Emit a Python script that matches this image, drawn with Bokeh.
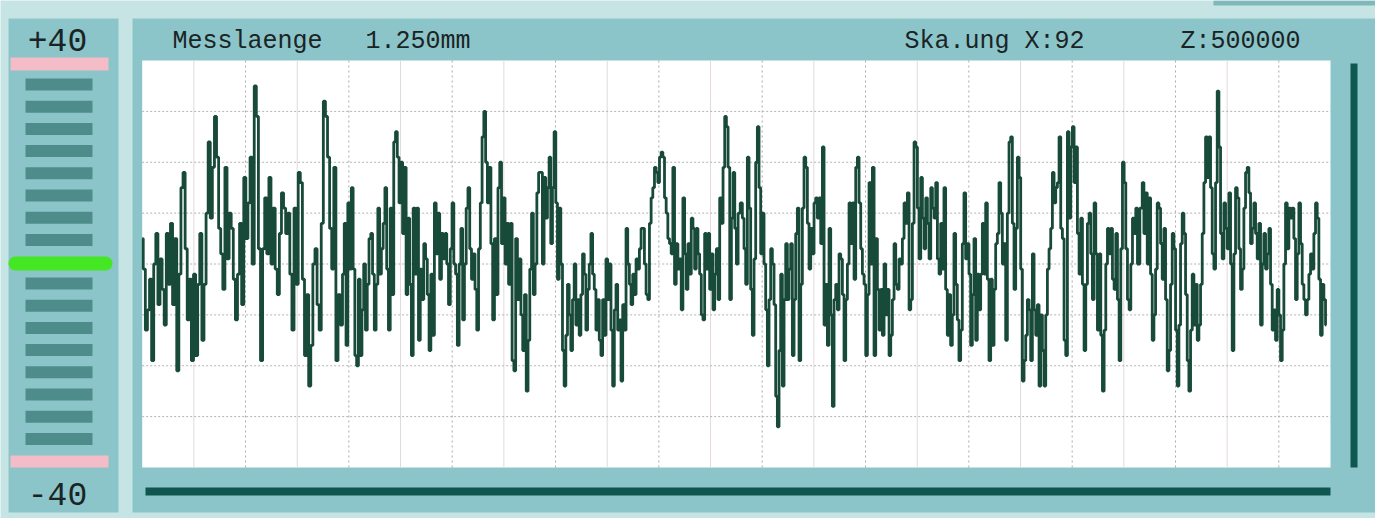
import numpy as np
from bokeh.plotting import figure
from bokeh.models import Range1d
from bokeh.embed import file_html
from bokeh.resources import INLINE
from bokeh.core.properties import value

# ---------------- data (profile heights, in the -40..+40 scale) -------------
seg1 = [5, -1, -13, -9, -3, -19, 0, 6, -8, 1, -5, -12, 6, -4, 8, -8, 5, -21, -2, 15, 18, 3, -11, -3,
        -19, -2, -18, -4, 6, -15, -4, 10, 24, 9, 19, 29, 21, 7, 2, -5, 19, 1, 10, 7, -3, -11, -2, 8,
        -8, 17, 5, 12, 21, 0, 35, 29, 3, -19, 3, 13, 2, 17, 0, 11, -1, -6, 6, 14, 11, 6, 10, -2, -13,
        11, -4, 18, 16, -3, -18, -6, -24, -16, 0, 3, -8, -13, 8, 32, 29, 21, 7, -1, 19, -19, -6]
seg2 = [-12, -2, 8, -16, 12, -1, 15, -1, -18, -20, -3, -18, -9, 0, -13, -4, 5, 6, -2, -13, -4, 11,
        -2, 3, 8, 15, -1, -13, 11, -6, 24, 26, 21, 12, 20, 6, 19, -6, 9, -4, -18, 11, -2, 11, -15,
        -1, -7, 4, 1, -6, -17, -2, -14, 12, 2, 10, -3, 6, 1, 6, 0, -8, 3, 12, 0, -2, -16, 0, 7, -11,
        0, 11, 15, 3, -3, 2, -5, -13, 3, 12, 25, 30, 20, 12, 19, 4, -11, 5, -6, 15, 20, 4, 13, 0, 8,
        -4, 8, -19, -21, 5, -7, 1, -10, -17, -6, -25, -15, -1, 10, -6, 0, 14, 18]
seg3 = [18, 0, 17, 9, 15, 21, 4, 15, 26, 12, -3, 11, 0, -17, -24, -14, -4, -10, -17, -7, 0, -12, -7,
        -14, -6, 2, -2, -13, -5, 0, 6, -2, -5, -13, -7, -15, -18, -7, -14, 1, -7, 0, -13, -24, -9,
        -4, -13, -11, -23, -8, -13, 7, 0, -4, -8, -2, -6, 1, -1, 3, 7, 7, 0, -6, -7, 8, 13, 15, 19,
        18, 16, 21, 22, 21, 13, 10, 5, 4, 2, 19, -4, 4, -1, 1, -9, 13, 2, -5, 4, -2, 9, 7, -1, 7, 2,
        -2, -10, -11, 6, -1, 6, -5, 2, -9, -2, 3, -7, 13, 8, 19, 29, 27, 19, -7, 9, 18, 7, 0, 10]
seg4 = [12, 9, 3, -4, 21, 11, -5, -14, 1, 20, 27, 15, 2, 10, 0, -9, -20, -7, 3, 0, -8, -26, -32, -17,
        -2, -24, -7, 4, -7, -1, 4, -18, -7, 6, 11, -19, -4, 11, 21, 19, 8, -1, 7, 2, 12, 13, 9, 13,
        4, 23, -12, -4, -16, 7, -10, -28, -7, -4, -9, 2, 1, -6, -19, -7, 0, 12, 4, 12, -3, 19, 21, 12,
        3, -2, -4, -18, -6, 16, 0, 19, -18, 5, -5, -13, -5, -14, 0, -10, -5, -18, -14, -7, 4, -4, -5,
        1, 0, 5, 12, 8, 14, -9, -7, 8, 24, 23, 11, 1, 17, 9, 3, 13, 8, 1, 15, 11, 9, 16, 1, -2]
seg5 = [8, -1, 15, -5, -14, -6, -16, -10, 6, -4, -11, -19, -13, 4, 14, 1, 4, -2, -16, -6, 5, -15, -2,
        -9, -2, 8, -2, 12, -3, -19, -3, -16, -5, 4, 6, 16, 10, 0, 4, -15, 10, 24, 25, 8, -5, 7, 21,
        17, -1, -23, -19, -14, -7, -9, -19, 2, -9, -14, -8, -24, -10, -17, -24, -10, -1, 3, 7, 18,
        12, 15, 16, 25, 7, 5, -15, -18, 26, 9, 23, 27, 16, 23, 6, -2, 9, -4, -17, -4, 8, 10, 2, -7,
        12, 2, -13, 2, -14, -25, -13, 0, 7, 2, 7, -3, -5, 6, -7, -19, 3, 20, 16, 3, -7, -9, 0, 9, 6,
        11, 0]
seg6 = [11, 16, 6, 14, 0, 13, -2, -15, -10, -1, 12, 11, 4, -3, 7, -7, -21, -17, -4, 6, 3, -13, -24,
        -12, 4, 10, 6, -6, -19, -25, -13, -2, -12, -4, -15, -12, -4, 6, 16, 25, 17, 25, 15, 2, -1,
        16, 34, 23, 6, 1, 12, 7, 3, 14, 0, -17, 2, 15, 13, 3, -5, -1, 11, 18, 19, 14, 4, 7, 12, 6, 1,
        8, -12, 0, 6, -1, 2, 7, -4, -13, -9, -15, -5, -10, -19, -13, 0, 12, 3, 11, 9, 11, 5, -7, 2,
        12, 4, -4, -7, -10, -7, -2, 2, -1, 6, 12, 9, -3, -14, -4, -7, -12]
SEGMENTS = [seg1, seg2, seg3, seg4, seg5, seg6]
# where each read segment lies along the trace (grid divisions 0..23)
SEG_SPAN = [(0.0, 3.81), (3.86, 7.69), (7.73, 11.55), (11.6, 15.44), (15.47, 19.28), (19.34, 22.92)]

LEVEL_LABELS = ["+40", "-40"]
HEADER_TEXTS = [("Messlaenge", 172), ("1.250mm", 365), ("Ska.ung X:92", 904), ("Z:500000", 1180)]
N_DIV_X = 23
Y_MIN, Y_MAX = -40, 40

# ---------------- layout constants (page pixels) -----------------
CX0, CY0, CX1, CY1 = 0, 0, 1375, 518          # canvas on page
PX0, PY0, PX1, PY1 = 141.7, 60, 1330, 467     # white plot area
ux = (PX1 - PX0) / N_DIV_X
uy = (PY1 - PY0) / (Y_MAX - Y_MIN)

x_range = Range1d(-(PX0 - CX0) / ux, N_DIV_X + (CX1 - PX1) / ux)
y_range = Range1d(Y_MIN - (CY1 - PY1) / uy, Y_MAX + (PY0 - CY0) / uy)

BG = "#c6e4e4"
TEAL = "#8cc5c9"
DARK = "#0f5651"
TRACE = "#184a3a"

p = figure(width=CX1 - CX0, height=CY1 - CY0, x_range=x_range, y_range=y_range,
           x_axis_type=None, y_axis_type=None, toolbar_location=None,
           output_backend="svg", min_border=0)
p.outline_line_color = None
p.background_fill_color = BG
p.border_fill_color = BG
p.grid.visible = False
p.extra_x_ranges = {"px": Range1d(CX0, CX1)}
p.extra_y_ranges = {"py": Range1d(CY1, CY0)}
PXK = dict(x_range_name="px", y_range_name="py")

# panels
p.quad(left=[8, 132], right=[118, 1375], top=[18, 18], bottom=[512, 512],
       fill_color=TEAL, line_color=None, **PXK)
p.quad(left=[1213], right=[1375], top=[0], bottom=[5], fill_color="#80b7bb", line_color=None, **PXK)

# white plot area
p.quad(left=[0], right=[N_DIV_X], bottom=[Y_MIN], top=[Y_MAX], fill_color="white", line_color=None)

# grid
xs_solid = [k for k in range(1, N_DIV_X) if k % 2 == 1]
xs_dot = [k for k in range(1, N_DIV_X) if k % 2 == 0]
p.segment(x0=xs_solid, x1=xs_solid, y0=Y_MIN, y1=Y_MAX, line_color="#e3d9dc", line_width=1)
p.segment(x0=xs_dot, x1=xs_dot, y0=Y_MIN, y1=Y_MAX, line_color="#a9a9a9", line_width=1,
          line_dash="2 3")
ys = list(range(Y_MIN + 10, Y_MAX, 10))
p.segment(x0=0, x1=N_DIV_X, y0=ys, y1=ys, line_color="#b2b2b2", line_width=1, line_dash="2 2")

# trace
xs, yv = [], []
for seg, (a, b) in zip(SEGMENTS, SEG_SPAN):
    xs.extend(np.linspace(a, b, len(seg)).tolist())
    yv.extend(seg)
p.step(xs, yv, mode="center", line_color=TRACE, line_width=2.8)

# dark frame bars
p.quad(left=[1350], right=[1357], top=[63], bottom=[467], fill_color=DARK, line_color=None, **PXK)
p.quad(left=[145], right=[1330], top=[487], bottom=[495], fill_color=DARK, line_color=None, **PXK)

# level gauge on the left
p.quad(left=[10, 10], right=[108, 108], top=[57, 455], bottom=[70, 467],
       fill_color="#f3bcc7", line_color=None, **PXK)
tops = [78 + 22.2 * k for k in range(8)] + [277 + 22.2 * k for k in range(8)]
p.quad(left=25, right=92, top=tops, bottom=[t + 12 for t in tops],
       fill_color="#4e8b8b", line_color=None, **PXK)
p.segment(x0=[15], x1=[105], y0=[263], y1=[263], line_color="#45e624", line_width=14,
          line_cap="round", **PXK)

p.text(x=[57, 57], y=[39, 493], text=LEVEL_LABELS, text_font=value("Liberation Mono"),
       text_font_size="33px", text_align="center", text_baseline="middle",
       text_color="#1a2424", **PXK)

p.text(x=[t[1] for t in HEADER_TEXTS], y=[41] * len(HEADER_TEXTS), text=[t[0] for t in HEADER_TEXTS],
       text_font=value("Liberation Mono"), text_font_size="25px", text_baseline="middle",
       text_color="#1a2424", **PXK)

open("out.html", "w").write(file_html(p, INLINE))
